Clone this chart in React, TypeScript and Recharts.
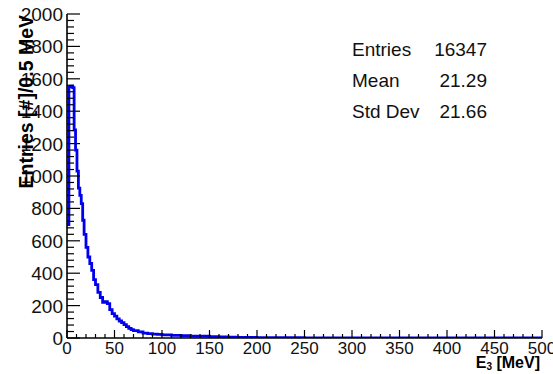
import { Line, LineChart, XAxis, YAxis } from "recharts";

// histogram: lower bin edges [MeV] and entries per bin
const binEdges = [
  0, 2, 4, 6, 7.5, 9, 10.5, 12, 13.5, 15, 16.5, 18, 20, 22, 24, 26, 28, 30,
  32.5, 35, 37.5, 40, 42.5, 45, 47.5, 50, 52.5, 55, 57.5, 60, 62.5, 65, 67.5,
  70, 75, 80, 85, 90, 95, 100, 110, 120, 130, 140, 150, 160, 170, 180, 200,
  250, 500,
];
const binCounts = [
  700, 1550, 1555, 1545, 1285, 1160, 1030, 925, 880, 830, 727, 640, 560, 500,
  460, 418, 360, 330, 282, 250, 220, 225, 212, 175, 150, 135, 118, 105, 95, 82,
  70, 60, 52, 45, 38, 30, 27, 24, 22, 19, 16, 14, 12, 11, 9, 7, 5, 3, 2, 1,
];

const xMajor = [0, 50, 100, 150, 200, 250, 300, 350, 400, 450, 500];
const yMajor = [0, 200, 400, 600, 800, 1000, 1200, 1400, 1600, 1800, 2000];
const xMinorStep = 10;
const yMinorStep = 40;

const statsLabels = ["Entries", "Mean", "Std Dev"];
const statsValues = ["16347", "21.29", "21.66"];

const FONT = '"Liberation Sans", Arial, Helvetica, sans-serif';
const W = 553;
const H = 374;

const data = binEdges.map((e, i) => ({
  e,
  n: binCounts[Math.min(i, binCounts.length - 1)],
}));

const xTicks: number[] = [];
for (let v = 0; v <= 500; v += xMinorStep) xTicks.push(v);
const yTicks: number[] = [];
for (let v = 0; v <= 2000; v += yMinorStep) yTicks.push(v);

const isMajor = (v: number, list: number[]) => list.includes(v);

function BottomTick({ x, y, payload }: any) {
  const major = isMajor(payload.value, xMajor);
  return (
    <g>
      <line x1={x} x2={x} y1={y} y2={y - (major ? 8 : 4)} stroke="#000" strokeWidth={1.2} />
      {major && (
        <text x={x} y={y + 16} textAnchor="middle" fontSize={17} fontFamily={FONT} fill="#111">
          {payload.value}
        </text>
      )}
    </g>
  );
}

function TopTick({ x, y, payload }: any) {
  const major = isMajor(payload.value, xMajor);
  return <line x1={x} x2={x} y1={y} y2={y + (major ? 8 : 4)} stroke="#000" strokeWidth={1.2} />;
}

function LeftTick({ x, y, payload }: any) {
  const major = isMajor(payload.value, yMajor);
  return (
    <g>
      <line x1={x} x2={x + (major ? 13 : 7)} y1={y} y2={y} stroke="#000" strokeWidth={1.2} />
      {major && (
        <text x={x - 4} y={y + 7} textAnchor="end" fontSize={19} fontFamily={FONT} fill="#111">
          {payload.value}
        </text>
      )}
    </g>
  );
}

function RightTick({ x, y, payload }: any) {
  const major = isMajor(payload.value, yMajor);
  return <line x1={x} x2={x - (major ? 13 : 7)} y1={y} y2={y} stroke="#000" strokeWidth={1.2} />;
}

export default function App() {
  return (
    <div style={{ position: "absolute", left: 0, top: 0, width: W, height: H, background: "#fff" }}>
      <LineChart width={W} height={H} data={data} margin={{ top: 14, right: 11, left: 0, bottom: 6 }}>
        <XAxis
          xAxisId="b"
          dataKey="e"
          type="number"
          domain={[0, 500]}
          ticks={xTicks}
          interval={0}
          height={30}
          tickSize={0}
          tickMargin={0}
          tickLine={false}
          tick={<BottomTick />}
          axisLine={{ stroke: "#000", strokeWidth: 1.6 }}
          allowDataOverflow
        />
        <XAxis
          xAxisId="t"
          orientation="top"
          type="number"
          domain={[0, 500]}
          ticks={xTicks}
          interval={0}
          height={0}
          tickSize={0}
          tickMargin={0}
          tickLine={false}
          tick={<TopTick />}
          axisLine={{ stroke: "#000", strokeWidth: 1.6 }}
          allowDataOverflow
        />
        <YAxis
          yAxisId="l"
          type="number"
          domain={[0, 2000]}
          ticks={yTicks}
          interval={0}
          width={67}
          tickSize={0}
          tickMargin={0}
          tickLine={false}
          tick={<LeftTick />}
          axisLine={{ stroke: "#000", strokeWidth: 1.6 }}
          allowDataOverflow
        />
        <YAxis
          yAxisId="r"
          orientation="right"
          type="number"
          domain={[0, 2000]}
          ticks={yTicks}
          interval={0}
          width={0}
          tickSize={0}
          tickMargin={0}
          tickLine={false}
          tick={<RightTick />}
          axisLine={{ stroke: "#000", strokeWidth: 1.6 }}
          allowDataOverflow
        />
        <Line
          xAxisId="b"
          yAxisId="l"
          type="stepAfter"
          dataKey="n"
          stroke="#0000ee"
          strokeWidth={2.8}
          dot={false}
          activeDot={false}
          isAnimationActive={false}
        />
      </LineChart>
      <svg
        width={W}
        height={H}
        style={{ position: "absolute", left: 0, top: 0, pointerEvents: "none" }}
        fontFamily={FONT}
      >
        <text
          x={33}
          y={15}
          transform="rotate(-90 33 15)"
          textAnchor="end"
          fontSize={19.5}
          fontWeight="bold"
          fill="#000"
        >
          Entries [#]/0.5 MeV
        </text>
        <text x={540} y={368} textAnchor="end" fontSize={16} fontWeight="bold" fill="#000">
          E<tspan fontSize={10} dy={2}>3</tspan>
          <tspan dy={-2}> [MeV]</tspan>
        </text>
        {statsLabels.map((label, i) => (
          <g key={label}>
            <text x={352} y={56 + i * 31} fontSize={19} fill="#111">
              {label}
            </text>
            <text x={487} y={56 + i * 31} fontSize={19} textAnchor="end" fill="#111">
              {statsValues[i]}
            </text>
          </g>
        ))}
      </svg>
    </div>
  );
}
